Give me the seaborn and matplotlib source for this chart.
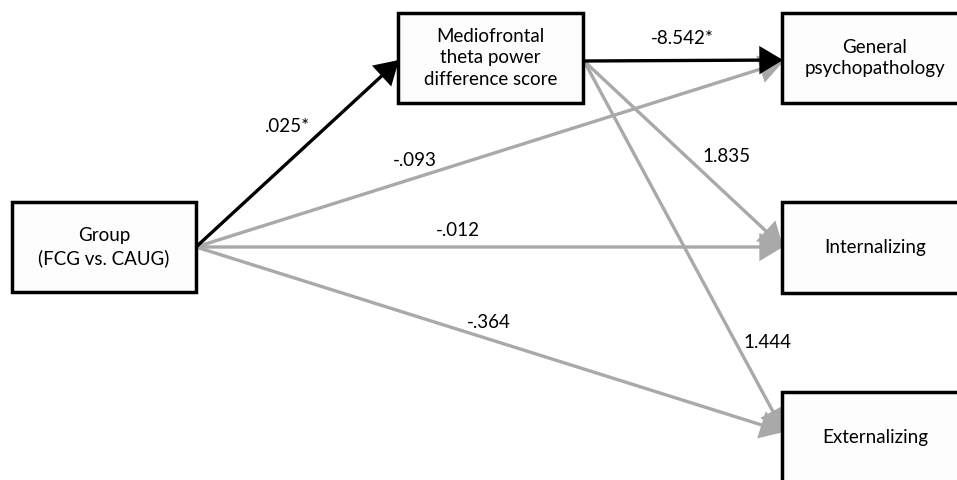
import matplotlib
matplotlib.use("Agg")
import matplotlib.pyplot as plt
import seaborn as sns
from matplotlib.patches import Rectangle

# ---- data ----
node_ids = ["group", "theta", "general", "intern", "extern"]
node_labels = ["Group\n(FCG vs. CAUG)",
               "Mediofrontal\ntheta power\ndifference score",
               "General\npsychopathology",
               "Internalizing",
               "Externalizing"]
edge_from = ["group", "theta", "group", "group", "group", "theta", "theta"]
edge_to = ["theta", "general", "general", "intern", "extern", "intern", "extern"]
edge_coef = [".025*", "-8.542*", "-.093", "-.012", "-.364", "1.835", "1.444"]
edge_sig = [True, True, False, False, False, False, False]

# ---- layout (pixel coordinates, y downward) ----
box_pos = {  # x0, y0, width, height
    "group": (12, 202, 184, 90),
    "theta": (398, 13, 185, 90),
    "general": (782, 13, 186, 90),
    "intern": (782, 202, 186, 91),
    "extern": (782, 392, 186, 92),
}
out_port = {"group": (196, 247), "theta": (584, 61)}
in_port = {"theta": (399, 60), "general": (783, 60), "intern": (783, 247),
           "extern": (784, 432)}
in_port_gray = {"general": (783, 62)}
label_pos = {".025*": (288, 127), "-8.542*": (682, 38), "-.093": (415, 160),
             "-.012": (458, 230), "-.364": (489, 323), "1.835": (727, 157),
             "1.444": (767, 343)}

sns.set_theme(style="white")
plt.rcParams["font.family"] = ["Lato", "DejaVu Sans"]

fig = plt.figure(figsize=(9.57, 4.8), dpi=100)
ax = fig.add_axes([0, 0, 1, 1])
ax.set_xlim(0, 957)
ax.set_ylim(480, 0)
ax.axis("off")

gray = "#a9a9a9"
lw = 2.4
fs = 13.5

# gray edges first, black after
order = sorted(range(len(edge_from)), key=lambda i: edge_sig[i])
for i in order:
    s, t = edge_from[i], edge_to[i]
    color = "black" if edge_sig[i] else gray
    start = out_port[s]
    end = in_port[t]
    if not edge_sig[i] and t in in_port_gray:
        end = in_port_gray[t]
    ax.annotate("", xy=end, xytext=start,
                arrowprops=dict(arrowstyle="-|>,head_length=0.5,head_width=0.3",
                                mutation_scale=27, color=color, lw=lw,
                                shrinkA=0, shrinkB=0, joinstyle="miter"),
                zorder=2 if edge_sig[i] else 1)

for nid, lab in zip(node_ids, node_labels):
    x0, y0, w, h = box_pos[nid]
    ax.add_patch(Rectangle((x0, y0), w, h, facecolor="#fdfdfd", edgecolor="black",
                           lw=2.5, zorder=3))
    ax.text(x0 + w / 2, y0 + h / 2, lab, ha="center", va="center",
            fontsize=fs, linespacing=1.3, color="black", zorder=4)

for c in edge_coef:
    x, y = label_pos[c]
    ax.text(x, y, c, ha="center", va="center", fontsize=fs, color="black",
            zorder=4)

fig.savefig("out.png", dpi=100)
